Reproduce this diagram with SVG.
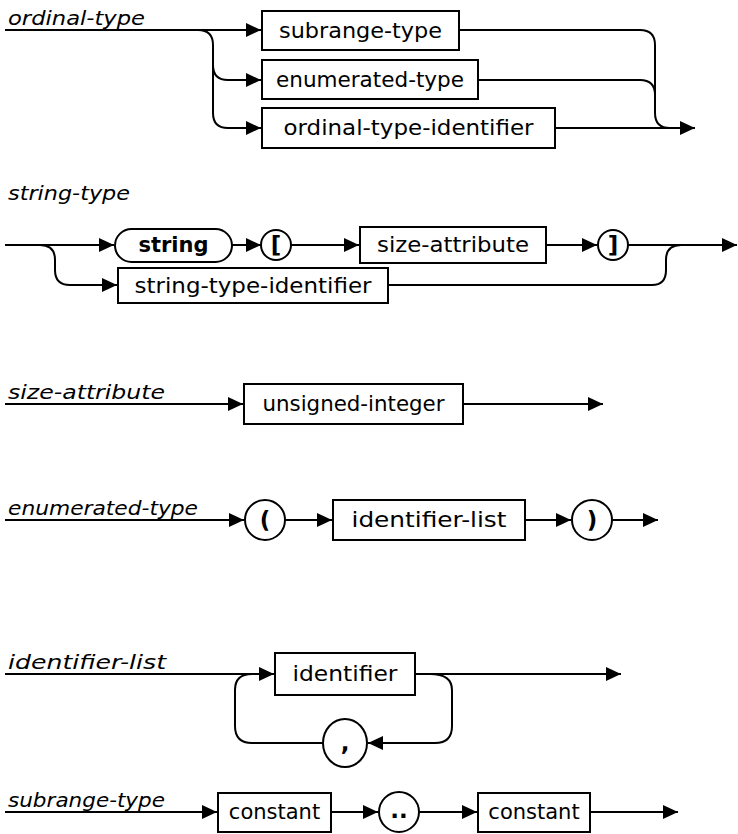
<svg xmlns="http://www.w3.org/2000/svg" width="738" height="834" viewBox="0 0 738 834">
<style>
.bg{fill:#fff}
.box{fill:#fff;stroke:#000;stroke-width:2}
.t{font-family:"DejaVu Sans",sans-serif;font-size:21px;fill:#000;text-anchor:middle}
.tb{font-weight:bold}
.sym{font-family:"DejaVu Sans",sans-serif;font-size:23px;fill:#000;text-anchor:middle;font-weight:bold}
.lbl{font-family:"DejaVu Sans",sans-serif;font-style:italic;font-size:20px;fill:#000}
.c path{fill:none;stroke:#000;stroke-width:2}
</style>
<defs>
<marker id="ar" markerUnits="userSpaceOnUse" markerWidth="16" markerHeight="14" refX="15" refY="7" orient="auto">
<path d="M0,0 L15,7 L0,14 z" fill="#000"/>
</marker>
</defs>
<rect class="bg" x="0" y="0" width="738" height="834"/>

<g id="connectors" class="c">
<!-- ordinal-type -->
<path d="M5 30 H261" marker-end="url(#ar)"/>
<path d="M198 30 Q213 30 213 45 V113 Q213 128 228 128 H261" marker-end="url(#ar)"/>
<path d="M213 65 Q213 80 228 80 H261" marker-end="url(#ar)"/>
<path d="M459 30 H640 Q655 30 655 45 V113 Q655 128 670 128"/>
<path d="M478 80 H640 Q655 80 655 95"/>
<path d="M555 128 H695" marker-end="url(#ar)"/>
<!-- string-type -->
<path d="M5 245 H114" marker-end="url(#ar)"/>
<path d="M40 245 Q55 245 55 260 V270 Q55 285 70 285 H117" marker-end="url(#ar)"/>
<path d="M232 245 H261" marker-end="url(#ar)"/>
<path d="M291 245 H359" marker-end="url(#ar)"/>
<path d="M546 245 H597" marker-end="url(#ar)"/>
<path d="M628 245 H737" marker-end="url(#ar)"/>
<path d="M388 285 H652 Q666 285 666 270 V260 Q666 245 681 245"/>
<!-- size-attribute -->
<path d="M5 404 H243" marker-end="url(#ar)"/>
<path d="M463 404 H603" marker-end="url(#ar)"/>
<!-- enumerated-type -->
<path d="M5 520 H244" marker-end="url(#ar)"/>
<path d="M285 520 H332" marker-end="url(#ar)"/>
<path d="M525 520 H571" marker-end="url(#ar)"/>
<path d="M612 520 H658" marker-end="url(#ar)"/>
<!-- identifier-list -->
<path d="M5 674 H274" marker-end="url(#ar)"/>
<path d="M415 674 H621" marker-end="url(#ar)"/>
<path d="M430 674 Q452 674 452 690 V726 Q452 743 435 743 H368" marker-end="url(#ar)"/>
<path d="M323 743 H252 Q235 743 235 726 V690 Q235 674 252 674"/>
<!-- subrange-type -->
<path d="M5 812 H217" marker-end="url(#ar)"/>
<path d="M331 812 H378" marker-end="url(#ar)"/>
<path d="M419 812 H477" marker-end="url(#ar)"/>
<path d="M590 812 H678" marker-end="url(#ar)"/>
</g>

<g id="labels">
<text class="lbl" x="8" y="25" textLength="137" lengthAdjust="spacingAndGlyphs">ordinal-type</text>
<text class="lbl" x="8" y="200" textLength="122" lengthAdjust="spacingAndGlyphs">string-type</text>
<text class="lbl" x="8" y="399" textLength="157" lengthAdjust="spacingAndGlyphs">size-attribute</text>
<text class="lbl" x="8" y="515" textLength="190" lengthAdjust="spacingAndGlyphs">enumerated-type</text>
<text class="lbl" x="8" y="669" textLength="158" lengthAdjust="spacingAndGlyphs">identifier-list</text>
<text class="lbl" x="8" y="807" textLength="157" lengthAdjust="spacingAndGlyphs">subrange-type</text>
</g>

<g id="n-subrange-type"><rect class="box" x="262" y="11" width="197" height="39"/><text class="t" x="360.5" y="38" textLength="163" lengthAdjust="spacingAndGlyphs">subrange-type</text></g>
<g id="n-enumerated-type"><rect class="box" x="262" y="60" width="216" height="39"/><text class="t" x="370" y="87" textLength="188" lengthAdjust="spacingAndGlyphs">enumerated-type</text></g>
<g id="n-ordinal-type-identifier"><rect class="box" x="262" y="108" width="293" height="40"/><text class="t" x="408.5" y="135" textLength="250" lengthAdjust="spacingAndGlyphs">ordinal-type-identifier</text></g>

<g id="n-string"><rect class="box" x="115" y="229" width="117" height="33" rx="16.5"/><text class="t tb" x="173.5" y="252">string</text></g>
<g id="n-lbracket"><circle class="box" cx="276" cy="245" r="15"/><text class="sym" x="276" y="253">[</text></g>
<g id="n-size-attribute"><rect class="box" x="360" y="227" width="186" height="36"/><text class="t" x="453" y="252" textLength="152" lengthAdjust="spacingAndGlyphs">size-attribute</text></g>
<g id="n-rbracket"><circle class="box" cx="613" cy="245" r="15"/><text class="sym" x="613" y="253">]</text></g>
<g id="n-string-type-identifier"><rect class="box" x="118" y="268" width="270" height="35"/><text class="t" x="253" y="293" textLength="237" lengthAdjust="spacingAndGlyphs">string-type-identifier</text></g>

<g id="n-unsigned-integer"><rect class="box" x="244" y="384" width="219" height="40"/><text class="t" x="353.5" y="411" textLength="182" lengthAdjust="spacingAndGlyphs">unsigned-integer</text></g>

<g id="n-lparen"><circle class="box" cx="265" cy="520" r="20"/><text class="sym" x="265" y="528">(</text></g>
<g id="n-identifier-list"><rect class="box" x="333" y="500" width="192" height="40"/><text class="t" x="429" y="527" textLength="155" lengthAdjust="spacingAndGlyphs">identifier-list</text></g>
<g id="n-rparen"><circle class="box" cx="592" cy="520" r="20"/><text class="sym" x="592" y="528">)</text></g>

<g id="n-identifier"><rect class="box" x="275" y="653" width="140" height="42"/><text class="t" x="345" y="681" textLength="105" lengthAdjust="spacingAndGlyphs">identifier</text></g>
<g id="n-comma"><ellipse class="box" cx="345" cy="743" rx="22" ry="24"/><text class="sym" x="345" y="751">,</text></g>

<g id="n-constant-1"><rect class="box" x="218" y="793" width="113" height="39"/><text class="t" x="274.5" y="819">constant</text></g>
<g id="n-dotdot"><circle class="box" cx="399" cy="812" r="20"/><text class="sym" x="399" y="818">..</text></g>
<g id="n-constant-2"><rect class="box" x="478" y="793" width="112" height="39"/><text class="t" x="534" y="819">constant</text></g>
</svg>
